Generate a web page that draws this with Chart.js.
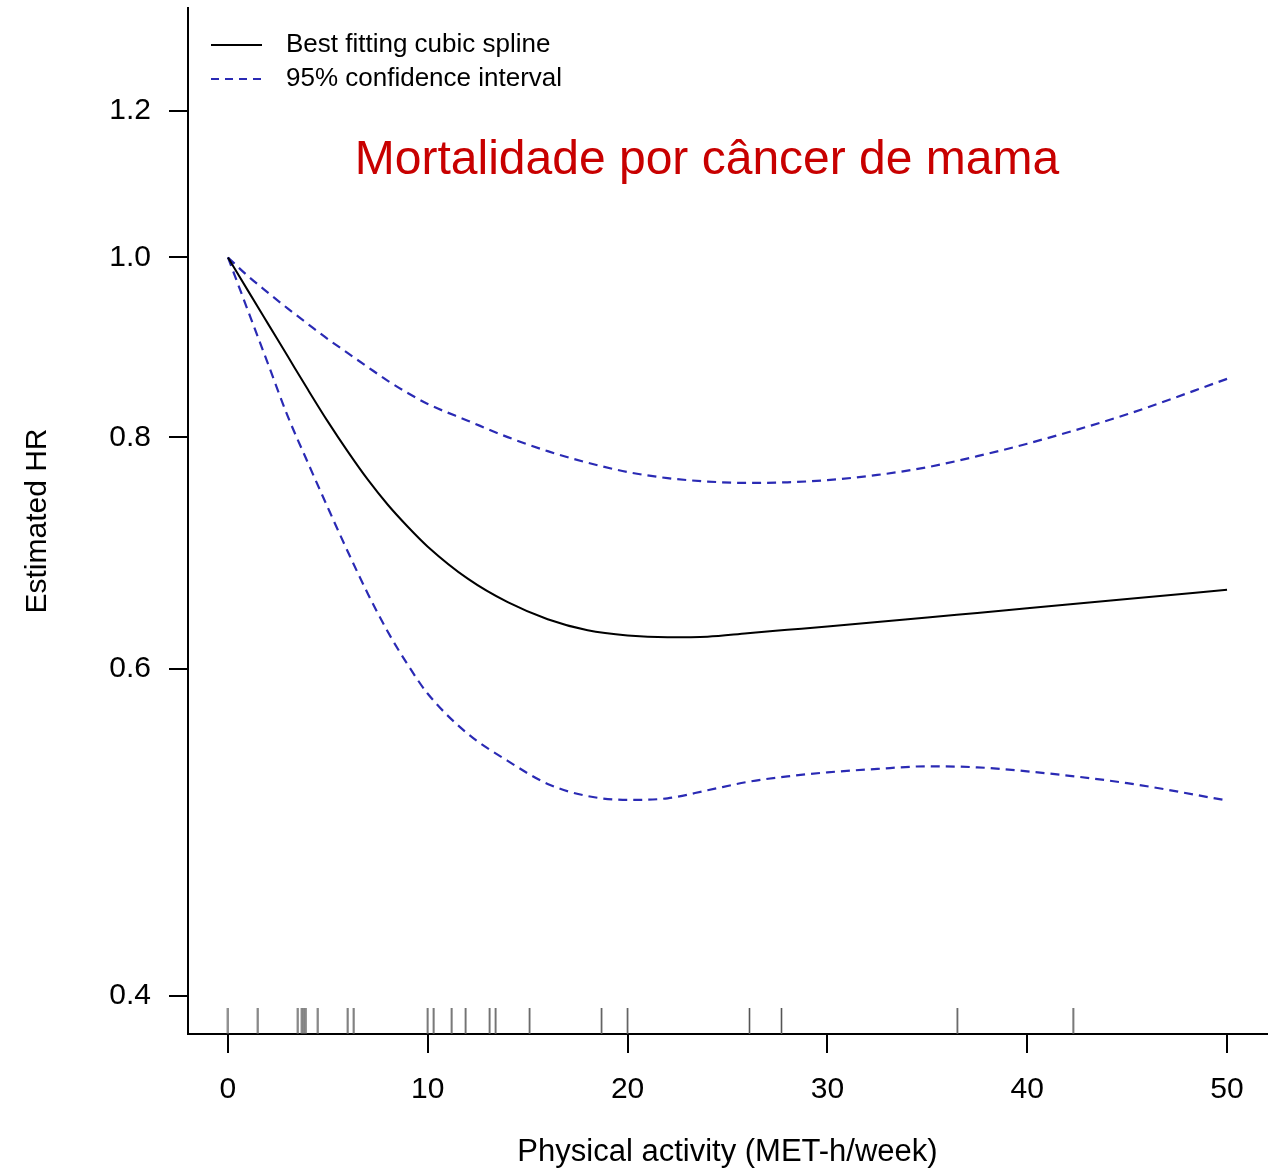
<!DOCTYPE html>
<html>
<head>
<meta charset="utf-8">
<script src="https://cdn.jsdelivr.net/npm/chart.js@4/dist/chart.umd.min.js"></script>
<style>
  html, body { margin: 0; padding: 0; background: #ffffff; }
  #wrap { width: 1268px; height: 1171px; position: relative; }
  canvas { display: block; }
</style>
</head>
<body>
<div id="wrap"><canvas id="c" width="1268" height="1171"></canvas></div>
<script>
// ---- data ----
const activity  = [0, 1, 2, 3, 4, 5, 6, 7, 8, 9, 10, 12, 14, 16, 18, 20, 22, 24, 26, 28, 30, 32.5, 35, 37.5, 40, 45, 50];
const hrSpline  = [1.0000, 0.9597, 0.9212, 0.8843, 0.8488, 0.8157, 0.7859, 0.7590, 0.7358, 0.7160, 0.6985, 0.6713, 0.6520, 0.6384, 0.6297, 0.6256, 0.6242, 0.6247, 0.6274, 0.6300, 0.6326, 0.6361, 0.6397, 0.6434, 0.6471, 0.6546, 0.6621];
const hrUpper   = [1.0000, 0.9772, 0.9574, 0.9385, 0.9208, 0.9037, 0.8881, 0.8728, 0.8581, 0.8452, 0.8338, 0.8167, 0.8002, 0.7864, 0.7752, 0.7663, 0.7605, 0.7573, 0.7560, 0.7566, 0.7586, 0.7635, 0.7709, 0.7815, 0.7937, 0.8232, 0.8602];
const hrLower   = [1.0000, 0.9362, 0.8766, 0.8208, 0.7752, 0.7331, 0.6941, 0.6589, 0.6285, 0.6033, 0.5820, 0.5538, 0.5355, 0.5204, 0.5126, 0.5102, 0.5112, 0.5163, 0.5217, 0.5253, 0.5279, 0.5302, 0.5319, 0.5312, 0.5286, 0.5209, 0.5098];
const rugActivity = [0, 1.5, 3.5, 3.7, 3.8, 3.9, 4.5, 6.0, 6.3, 10.0, 10.3, 11.2, 11.9, 13.1, 13.4, 15.1, 18.7, 20.0, 26.1, 27.7, 36.5, 42.3];
const xTickValues = [0, 10, 20, 30, 40, 50];
const yTickValues = [0.4, 0.6, 0.8, 1.0, 1.2];
const xLimits = [0, 50];
const yLimits = [0.4, 1.3];
const seriesLabels = ['Best fitting cubic spline', '95% confidence interval'];
const chartTitle = 'Mortalidade por câncer de mama';
const xTitle = 'Physical activity (MET-h/week)';
const yTitle = 'Estimated HR';

// ---- R-style 4% axis expansion ----
const xPad = 0.04 * (xLimits[1] - xLimits[0]);
const X_MIN = xLimits[0] - xPad, X_MAX = xLimits[1] + xPad;
const yLogPad = 0.04 * Math.log(yLimits[1] / yLimits[0]);
const Y_MIN = yLimits[0] * Math.exp(-yLogPad), Y_MAX = yLimits[1] * Math.exp(yLogPad);

const FONT = '"Liberation Sans", Arial, Helvetica, sans-serif';
Chart.defaults.font.family = FONT;
Chart.defaults.color = '#000000';

const BLUE = '#2a2ab4';
const DASH = [9, 6];

// legend line samples (style only)
function lineSample(color, width, dash) {
  const c = document.createElement('canvas');
  c.width = 55; c.height = 6;
  const g = c.getContext('2d');
  g.strokeStyle = color; g.lineWidth = width; g.setLineDash(dash.length ? [8, 6] : []);
  g.beginPath(); g.moveTo(4, 3); g.lineTo(55, 3); g.stroke();
  return c;
}
// rug tick glyph: upper half only, so it rises from the axis
const rugGlyph = (() => {
  const c = document.createElement('canvas');
  c.width = 3; c.height = 52;
  const g = c.getContext('2d');
  g.strokeStyle = '#555555'; g.lineWidth = 1.6;
  g.beginPath(); g.moveTo(1.5, 0); g.lineTo(1.5, 26); g.stroke();
  return c;
})();

const toXY = (ys) => activity.map((x, i) => ({ x: x, y: ys[i] }));

const panelTitle = {
  id: 'panelTitle',
  afterDraw(chart) {
    const { ctx, chartArea } = chart;
    ctx.save();
    ctx.font = '48px ' + FONT;
    ctx.fillStyle = '#c80000';
    ctx.textAlign = 'center';
    ctx.textBaseline = 'alphabetic';
    ctx.fillText(chartTitle, chartArea.left + 519, chartArea.top + 166);
    ctx.restore();
  }
};

new Chart(document.getElementById('c'), {
  type: 'line',
  data: {
    datasets: [
      {
        label: seriesLabels[0],
        data: toXY(hrSpline),
        borderColor: '#000000',
        borderWidth: 2,
        pointRadius: 0,
        cubicInterpolationMode: 'monotone',
        fill: false
      },
      {
        label: seriesLabels[1],
        data: toXY(hrUpper),
        borderColor: BLUE,
        borderWidth: 2.2,
        borderDash: DASH,
        pointRadius: 0,
        cubicInterpolationMode: 'monotone',
        fill: false
      },
      {
        label: seriesLabels[1],
        data: toXY(hrLower),
        borderColor: BLUE,
        borderWidth: 2.2,
        borderDash: DASH,
        pointRadius: 0,
        cubicInterpolationMode: 'monotone',
        fill: false
      },
      {
        type: 'scatter',
        label: 'rug',
        data: rugActivity.map(v => ({ x: v, y: Y_MIN })),
        pointStyle: rugGlyph,
        pointRadius: 3,
        showLine: false,
        clip: false
      }
    ]
  },
  options: {
    responsive: false,
    maintainAspectRatio: false,
    animation: false,
    devicePixelRatio: 1,
    layout: { autoPadding: false, padding: { top: 8, right: 1, left: 0, bottom: 0 } },
    plugins: {
      tooltip: { enabled: false },
      title: { display: false },
      legend: {
        display: true,
        position: 'chartArea',
        align: 'start',
        title: { display: true, text: ' ', font: { size: 24, lineHeight: 1 }, padding: 0 },
        labels: {
          usePointStyle: true,
          pointStyleWidth: 77,
          padding: 8,
          color: '#000000',
          font: { size: 26 },
          generateLabels: (chart) => [0, 1].map(i => {
            const ds = chart.data.datasets[i];
            return {
              text: ds.label,
              fillStyle: ds.borderColor,
              strokeStyle: ds.borderColor,
              fontColor: '#000000',
              lineWidth: ds.borderWidth,
              pointStyle: lineSample(ds.borderColor, ds.borderWidth, ds.borderDash || []),
              hidden: false,
              datasetIndex: i
            };
          })
        }
      }
    },
    scales: {
      x: {
        type: 'linear',
        min: X_MIN,
        max: X_MAX,
        afterBuildTicks: (s) => { s.ticks = xTickValues.map(v => ({ value: v })); },
        afterFit: (s) => { s.height = 137; s.paddingLeft = 0; s.paddingRight = 0; },
        ticks: { font: { size: 30 }, color: '#000000', padding: 19, maxRotation: 0, autoSkip: false, callback: (v) => String(v) },
        grid: { drawOnChartArea: false, drawTicks: true, tickLength: 19, color: '#000000', lineWidth: 2 },
        border: { display: true, color: '#000000', width: 2 },
        title: { display: true, text: xTitle, font: { size: 31 }, color: '#000000', padding: { top: 0, bottom: 0 } }
      },
      y: {
        type: 'logarithmic',
        min: Y_MIN,
        max: Y_MAX,
        afterBuildTicks: (s) => { s.ticks = yTickValues.map(v => ({ value: v })); },
        afterFit: (s) => { s.width = 188; s.paddingTop = 0; s.paddingBottom = 0; },
        ticks: { font: { size: 30 }, color: '#000000', padding: 18, autoSkip: false, callback: (v) => Number(v).toFixed(1) },
        grid: { drawOnChartArea: false, drawTicks: true, tickLength: 19, color: '#000000', lineWidth: 2 },
        border: { display: true, color: '#000000', width: 2 },
        title: { display: true, text: yTitle, font: { size: 30 }, color: '#000000', padding: { top: 20, bottom: 0 } }
      }
    }
  },
  plugins: [panelTitle]
});
</script>
</body>
</html>
